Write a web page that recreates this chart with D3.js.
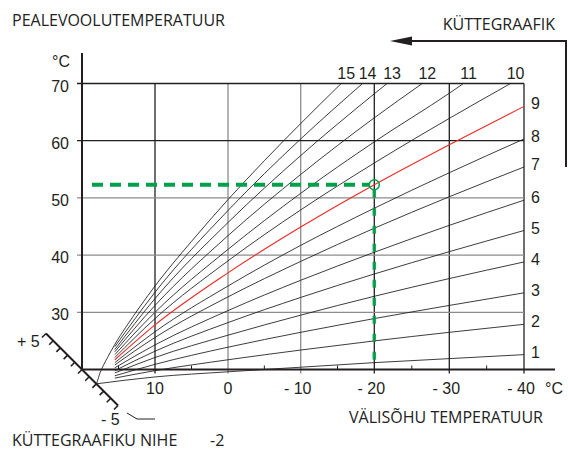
<!DOCTYPE html>
<html><head><meta charset="utf-8">
<script src="https://cdn.jsdelivr.net/npm/d3@7"></script>
<style>body{margin:0;background:#fff} svg{display:block}</style>
</head><body><svg id="c" width="568" height="450"></svg>
<script>
// ---------- data ----------
const xTicks = [10, 0, -10, -20, -30, -40];
const xTickLabels = ["10", "0", "- 10", "- 20", "- 30", "- 40"];
const xMinorTicks = [15, 5, -5, -15, -25, -35];
const yTicks = [30, 40, 50, 60, 70];
const yTickLabels = ["30", "40", "50", "60", "70"];
const grayGridX = [0, -10];
const grayGridY = [30, 40, 50];

const curve1  = [[18,17.5],[10,18.7],[0,19.6],[-10,20.4],[-20,21.2],[-30,21.9],[-40,22.6]];
const curve2  = [[15.5,18.5],[10,19.8],[0,21.7],[-10,23.4],[-20,25.0],[-30,26.5],[-40,27.9]];
const curve3  = [[15.5,18.9],[10,20.9],[0,23.9],[-10,26.5],[-20,28.9],[-30,31.2],[-40,33.4]];
const curve4  = [[15.5,19.4],[10,22.1],[0,26.0],[-10,29.5],[-20,32.8],[-30,35.9],[-40,38.8]];
const curve5  = [[15.5,19.8],[10,23.2],[0,28.2],[-10,32.6],[-20,36.7],[-30,40.6],[-40,44.3]];
const curve6  = [[15.5,20.3],[10,24.3],[0,30.3],[-10,35.6],[-20,40.5],[-30,45.2],[-40,49.6]];
const curve7  = [[15.5,20.8],[10,25.6],[0,32.7],[-10,38.9],[-20,44.7],[-30,50.2],[-40,55.4]];
const curve8  = [[15.5,21.2],[10,26.6],[0,34.6],[-10,41.7],[-20,48.2],[-30,54.4],[-40,60.3]];
const curve9  = [[15.5,21.7],[10,27.8],[0,36.9],[-10,44.9],[-20,52.3],[-30,59.3],[-40,66.0]];
const curve10 = [[15.5,22.1],[10,28.9],[0,39.0],[-10,47.9],[-20,56.1],[-30,63.9],[-38.2,70]];
const curve11 = [[15.5,22.6],[10,30.0],[0,41.0],[-10,50.8],[-20,59.8],[-30,68.3],[-31.9,70]];
const curve12 = [[15.5,23.1],[10,31.2],[0,43.4],[-10,54.1],[-20,64.0],[-26.4,70]];
const curve13 = [[15.5,23.5],[10,32.4],[0,45.7],[-10,57.4],[-20,68.2],[-21.7,70]];
const curve14 = [[15.5,24.0],[10,33.5],[0,47.8],[-10,60.3],[-18.4,70]];
const curve15 = [[18,17.5],[17.5,19.5],[17,20.9],[16.5,22.1],[15.5,24.4],[14,27.4],[12,31.1],[10,34.6],[5,42.4],[0,49.7],[-5,56.5],[-10,63.0],[-15.5,70]];
const curves = [curve1,curve2,curve3,curve4,curve5,curve6,curve7,curve8,curve9,curve10,curve11,curve12,curve13,curve14,curve15];
const curveLabels = ["1","2","3","4","5","6","7","8","9","10","11","12","13","14","15"];
const selectedCurve = 9;
const designOutdoor = -20;
const designFlow = 52.3;
const offsetTicks = [5,4,3,2,1,0,-1,-2,-3,-4,-5];
const offsetValue = -2;

// ---------- drawing ----------
const svg = d3.select("#c");
// the printed grid is slightly uneven, so the outdoor scale is piecewise linear
const x = d3.scaleLinear().domain([20, 10, 0, -10, -20, -30, -40])
  .range([82, 155, 228, 300.7, 374.3, 449.3, 524]);
const y = d3.scaleLinear().domain([20, 70]).range([369.5, 83.5]);
const ink = "#231f20";
const numFont = "'Liberation Sans', Arial, sans-serif";
const txtFont = "'Open Sans', sans-serif";

// grid verticals
svg.append("g").selectAll("line").data(xTicks).join("line")
  .attr("x1", d => x(d)).attr("x2", d => x(d))
  .attr("y1", y(70)).attr("y2", y(20) + 4)
  .attr("stroke", d => grayGridX.includes(d) ? "#8c8c8c" : ink)
  .attr("stroke-width", 1.3);
// grid horizontals
svg.append("g").selectAll("line").data(yTicks).join("line")
  .attr("x1", x(20) - 5).attr("x2", x(-40))
  .attr("y1", d => y(d)).attr("y2", d => y(d))
  .attr("stroke", d => grayGridY.includes(d) ? "#8c8c8c" : ink)
  .attr("stroke-width", 1.3);
// minor ticks
svg.append("g").selectAll("line").data(xMinorTicks).join("line")
  .attr("x1", d => x(d)).attr("x2", d => x(d))
  .attr("y1", y(20) - 4).attr("y2", y(20))
  .attr("stroke", ink).attr("stroke-width", 1);

// curves
const line = d3.line().x(d => x(d[0])).y(d => y(d[1])).curve(d3.curveMonotoneX);
svg.append("g").selectAll("path").data(curves).join("path")
  .attr("d", line).attr("fill", "none")
  .attr("stroke", (d, i) => (i + 1) === selectedCurve ? "#ee2a24" : "#1a1a1a")
  .attr("stroke-width", (d, i) => (i + 1) === selectedCurve ? 1.1 : 0.85);

// axes
svg.append("line").attr("x1", x(20)).attr("x2", x(20)).attr("y1", 53).attr("y2", y(20))
  .attr("stroke", ink).attr("stroke-width", 2);
svg.append("line").attr("x1", x(20)).attr("x2", 555).attr("y1", y(20)).attr("y2", y(20))
  .attr("stroke", ink).attr("stroke-width", 2);

// y tick labels
svg.append("g").selectAll("text").data(yTicks).join("text")
  .attr("x", 69).attr("y", d => y(d) + 8)
  .attr("text-anchor", "end").attr("font-family", numFont).attr("font-size", 16).attr("fill", ink)
  .text((d, i) => yTickLabels[i]);
svg.append("text").attr("x", 70).attr("y", 67).attr("text-anchor", "end")
  .attr("font-family", numFont).attr("font-size", 16).attr("fill", ink).text("°C");
// x tick labels
svg.append("g").selectAll("text").data(xTicks).join("text")
  .attr("x", d => x(d) - (d < 0 ? 3 : 0)).attr("y", y(20) + 24)
  .attr("text-anchor", "middle").attr("font-family", numFont).attr("font-size", 16).attr("fill", ink)
  .text((d, i) => xTickLabels[i]);
svg.append("text").attr("x", 545).attr("y", y(20) + 24)
  .attr("font-family", numFont).attr("font-size", 16).attr("fill", ink).text("°C");

// curve labels
const labels = svg.append("g").attr("font-family", numFont).attr("font-size", 16).attr("fill", ink);
curves.forEach((c, i) => {
  const end = c[c.length - 1];
  if (end[1] >= 70) {
    labels.append("text").attr("x", x(end[0]) + 5).attr("y", 79).attr("text-anchor", "middle").text(curveLabels[i]);
  } else {
    labels.append("text").attr("x", x(-40) + 7).attr("y", y(end[1]) + 3).text(curveLabels[i]);
  }
});

// offset scale
const ox = x(20), oy = y(20);
const off = d3.scaleLinear().domain([5, -5]).range([-36, 36]);
svg.append("line").attr("x1", ox + off(5)).attr("y1", oy + off(5)).attr("x2", ox + off(-5)).attr("y2", oy + off(-5))
  .attr("stroke", ink).attr("stroke-width", 2);
svg.append("g").selectAll("line").data(offsetTicks).join("line")
  .attr("x1", d => ox + off(d)).attr("y1", d => oy + off(d))
  .attr("x2", d => ox + off(d) - 4).attr("y2", d => oy + off(d) + 4)
  .attr("stroke", ink).attr("stroke-width", 1.6);
svg.append("text").attr("x", 17).attr("y", 347).attr("font-family", numFont).attr("font-size", 16).attr("fill", ink).text("+ 5");
svg.append("text").attr("x", 101).attr("y", 425).attr("font-family", numFont).attr("font-size", 16).attr("fill", ink).text("- 5");
svg.append("path").attr("d", "M127,413 L137,419 L155,419").attr("fill", "none").attr("stroke", ink).attr("stroke-width", 1);

// design point (green)
const green = "#00a14b";
const cx = x(designOutdoor), cy = y(designFlow);
svg.append("line").attr("x1", x(20) + 10).attr("x2", cx - 5).attr("y1", cy).attr("y2", cy)
  .attr("stroke", green).attr("stroke-width", 4).attr("stroke-dasharray", "11,7");
svg.append("line").attr("x1", cx).attr("x2", cx).attr("y1", cy + 5).attr("y2", y(20))
  .attr("stroke", green).attr("stroke-width", 3.5).attr("stroke-dasharray", "8,10").attr("stroke-opacity", 0.9);
svg.append("circle").attr("cx", cx).attr("cy", cy).attr("r", 5)
  .attr("fill", "none").attr("stroke", green).attr("stroke-width", 1.5);

// titles
const t = (tx, ty, s, anchor) => svg.append("text").attr("x", tx).attr("y", ty)
  .attr("font-family", txtFont).attr("font-size", 16).attr("fill", "#222")
  .attr("text-anchor", anchor || "start").text(s);
t(12, 26, "PEALEVOOLUTEMPERATUUR");
t(555, 30, "KÜTTEGRAAFIK", "end");
t(543, 423, "VÄLISÕHU TEMPERATUUR", "end");
t(12, 446, "KÜTTEGRAAFIKU NIHE");
t(210, 446, String(offsetValue));

// arrow
svg.append("path").attr("d", "M566,167 L566,41 L408,41").attr("fill", "none").attr("stroke", ink).attr("stroke-width", 2);
svg.append("path").attr("d", "M390,41 L412,36.5 L412,45.5 Z").attr("fill", ink);
</script></body></html>
